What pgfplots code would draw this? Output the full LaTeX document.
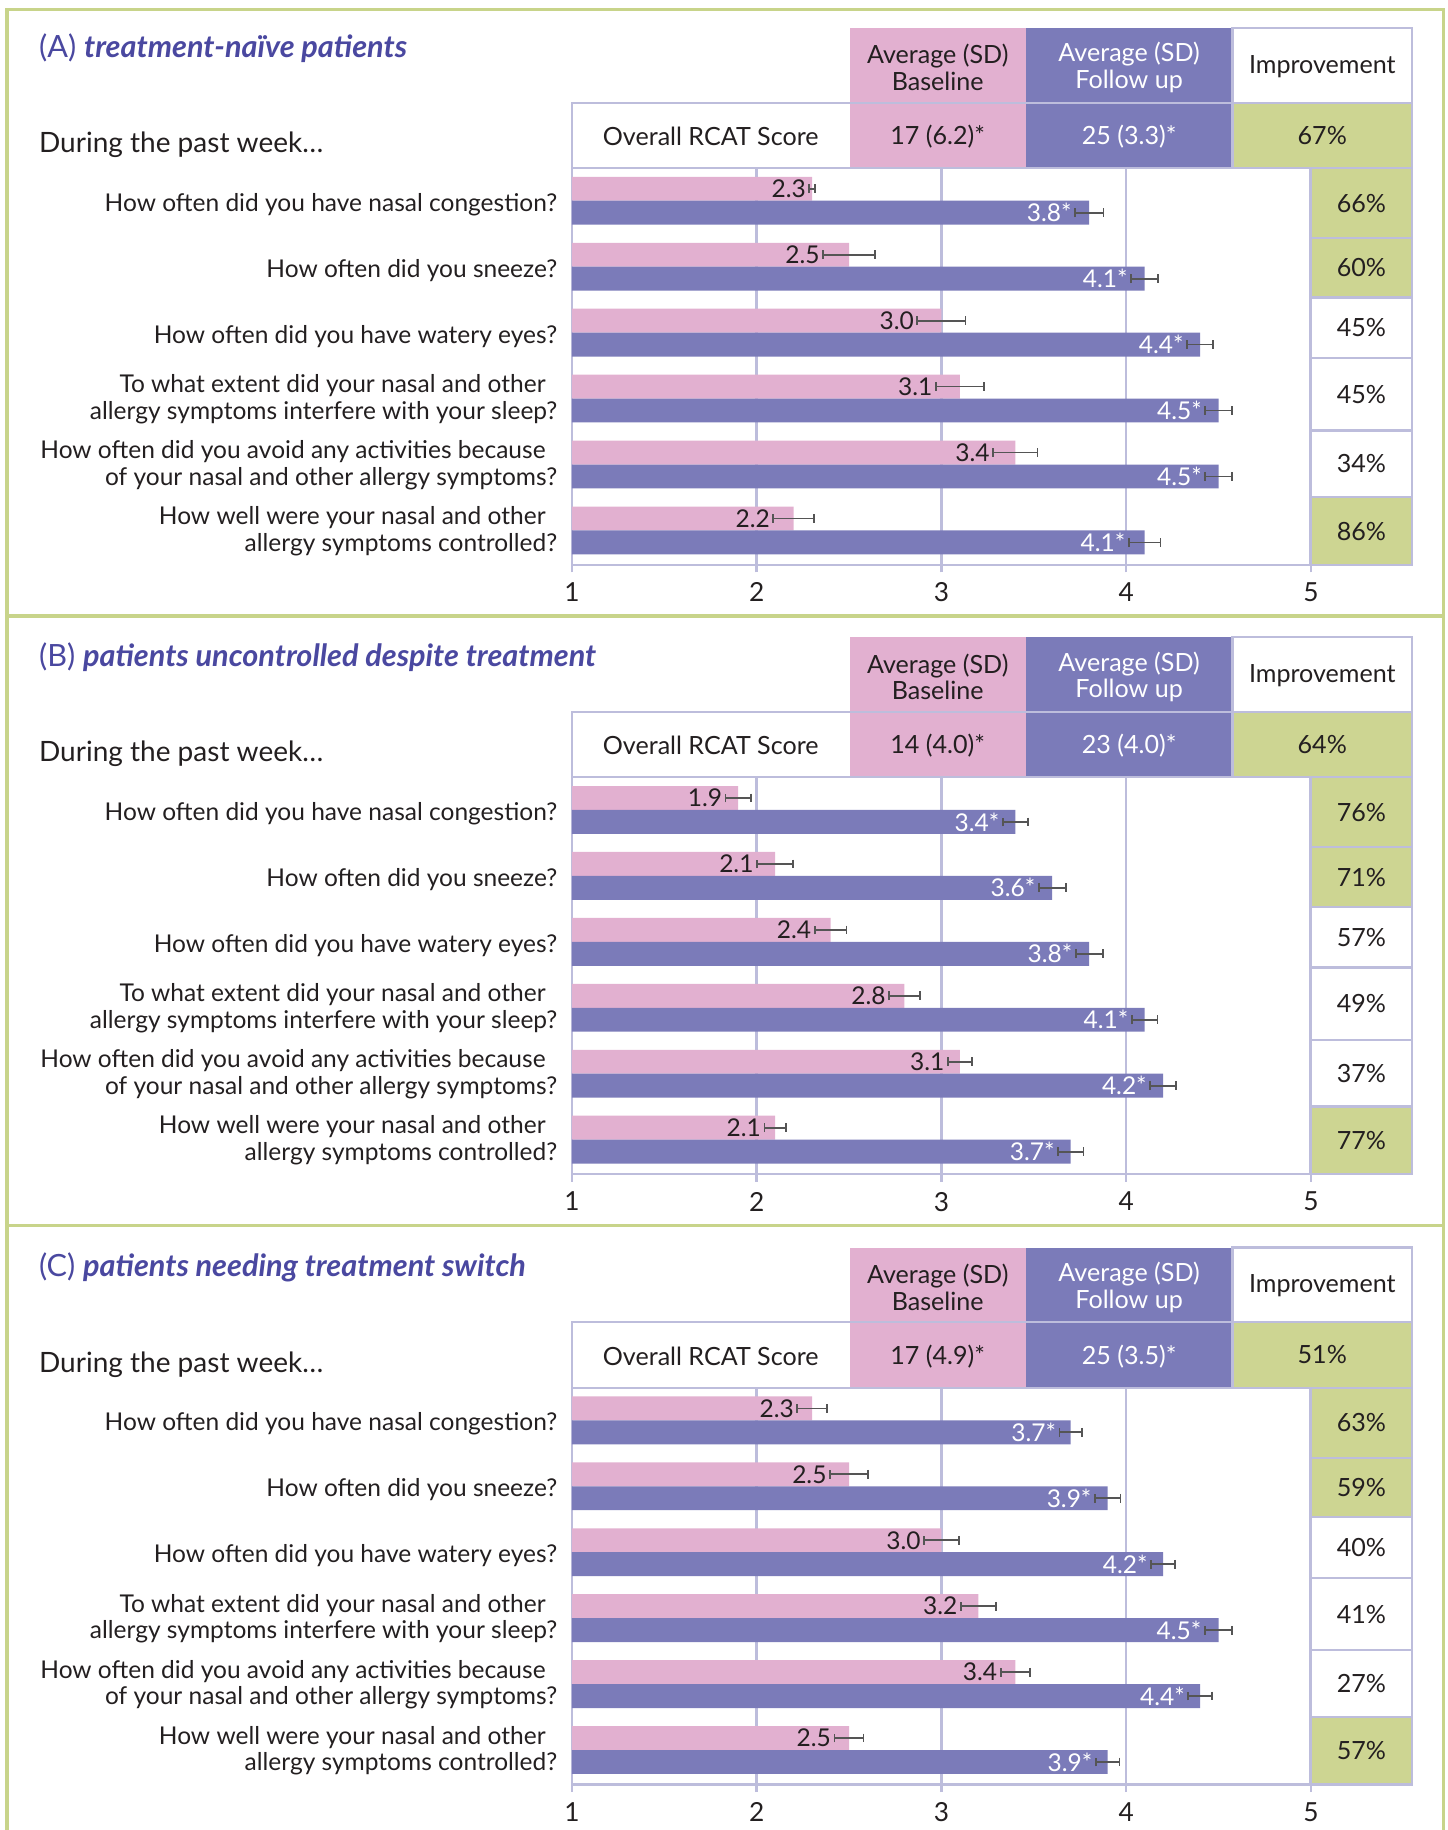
\documentclass[border=0pt]{standalone}
\usepackage{pgfplots}
\pgfplotsset{compat=1.18}
\usepackage{pgfplotstable}
\usepackage{fontspec}
\setmainfont{Lato}

\definecolor{pinkbar}{HTML}{E2B0D0}
\definecolor{purpbar}{HTML}{7B7BB9}
\definecolor{greencell}{HTML}{CDD592}
\definecolor{framecol}{HTML}{C8D48A}
\definecolor{lav}{HTML}{BDBDDC}
\definecolor{titlecol}{HTML}{4A48A0}
\definecolor{txt}{HTML}{231F20}
\definecolor{errcol}{HTML}{555555}

% pos = centre of the bar pair, measured down from the top of the plot area
\pgfplotstableread{
pos   base berr  fol ferr
28    2.3  0.015 3.8 0.077
84.5  2.5  0.14  4.1 0.074
141   3.0  0.13  4.4 0.070
197.5 3.1  0.13  4.5 0.072
254   3.4  0.12  4.5 0.072
310.5 2.2  0.11  4.1 0.086
}\dataA
\pgfplotstableread{
pos   base berr  fol ferr
28    1.9  0.068 3.4 0.068
84.5  2.1  0.098 3.6 0.073
141   2.4  0.086 3.8 0.073
197.5 2.8  0.083 4.1 0.070
254   3.1  0.065 4.2 0.070
310.5 2.1  0.058 3.7 0.069
}\dataB
\pgfplotstableread{
pos   base berr  fol ferr
28    2.3  0.080 3.7 0.060
84.5  2.5  0.103 3.9 0.069
141   3.0  0.094 4.2 0.065
197.5 3.2  0.095 4.5 0.074
254   3.4  0.079 4.4 0.064
310.5 2.5  0.079 3.9 0.064
}\dataC

\pgfplotsset{/pgf/number format/assume math mode=true}

\tikzset{
  qst/.style={anchor=east, align=right, inner sep=0pt, text=txt,
    font=\fontsize{8.4}{9.2}\selectfont},
  hdr/.style={align=center, inner sep=0pt, font=\fontsize{8.6}{9.2}\selectfont},
  cell/.style={draw=lav, line width=0.8pt},
}
\newcommand{\gap}{\hbox to 4pt{}}

% #1 top of plot area (px), #2 title, #3 table, #4 #5 #6 overall score cells, #7 improvement list
\newcommand{\panel}[7]{%
\begin{axis}[
  at={(196pt,{-0.4pt*#1})}, anchor=north west,
  scale only axis, width=288pt, height=136pt,
  xmin=1, xmax=5.5484, ymin=0, ymax=340,
  axis x line*=bottom, axis y line*=left,
  axis line style={draw=lav, line width=0.8pt},
  xtick={1,2,3,4,5}, ytick=\empty,
  xmajorgrids, major grid style={draw=lav, line width=0.8pt},
  tick align=outside, major tick length=2.6pt,
  x tick style={draw=lav, line width=0.8pt},
  tick label style={font=\fontsize{9}{10}\selectfont, text=txt},
  xbar, bar width=20.5, bar shift=0pt,
  point meta=x,
]
\addplot[fill=pinkbar, draw=none,
  nodes near coords={\pgfmathprintnumber[fixed,fixed zerofill,precision=1]{\pgfplotspointmeta}},
  visualization depends on={\thisrow{berr} \as \eb},
  every node near coord/.append style={anchor=east, xshift={-(\eb*63.32+1)*1pt},
    text=txt, inner sep=0pt, font=\fontsize{8.4}{9}\selectfont},
  error bars/.cd, x dir=both, x explicit,
  error bar style={errcol, line width=0.6pt},
  error mark options={rotate=90, errcol, line width=0.6pt, mark size=1.5pt}]
  table[x=base, y expr=350.25-\thisrow{pos}, x error=berr] {#3};
\addplot[fill=purpbar, draw=none,
  nodes near coords={\pgfmathprintnumber[fixed,fixed zerofill,precision=1]{\pgfplotspointmeta}*},
  visualization depends on={\thisrow{ferr} \as \eb},
  every node near coord/.append style={anchor=east, xshift={-(\eb*63.32+1)*1pt},
    text=white, inner sep=0pt, font=\fontsize{8.4}{9}\selectfont},
  error bars/.cd, x dir=both, x explicit,
  error bar style={errcol, line width=0.6pt},
  error mark options={rotate=90, errcol, line width=0.6pt, mark size=1.5pt}]
  table[x=fol, y expr=329.75-\thisrow{pos}, x error=ferr] {#3};
\end{axis}
\begin{scope}[x=0.4pt, y=-0.4pt]
  % header row
  \fill[pinkbar] (728,#1-120) rectangle (879,#1-56);
  \fill[purpbar] (879,#1-120) rectangle (1056,#1-56);
  \draw[cell, fill=white] (1056,#1-120) rectangle (1210,#1-56);
  \node[hdr, text=txt] at (803.5,#1-86) {Average (SD)\\Baseline};
  \node[hdr, text=white] at (967.5,#1-86) {Average (SD)\\Follow up};
  \node[hdr, text=txt] at (1133,#1-87) {Improvement};
  % overall score row
  \fill[white] (490,#1-56) rectangle (728,#1);
  \fill[pinkbar] (728,#1-56) rectangle (879,#1);
  \fill[purpbar] (879,#1-56) rectangle (1056,#1);
  \fill[greencell] (1056,#1-56) rectangle (1210,#1);
  \draw[cell] (490,#1-56) rectangle (1210,#1);
  \draw[cell] (1056,#1-56) -- (1056,#1);
  \node[hdr, text=txt] at (609,#1-27) {Overall RCAT Score};
  \node[hdr, text=txt] at (803.5,#1-27) {#4};
  \node[hdr, text=white] at (967.5,#1-27) {#5};
  \node[hdr, text=txt] at (1133,#1-28) {#6};
  % improvement column
  \foreach \v/\c [count=\i] in {#7} {
    \pgfmathsetmacro\ya{{0,60,111,163,225,282}[\i-1]}
    \pgfmathsetmacro\yb{{60,111,163,225,282,340}[\i-1]}
    \draw[cell, fill=\c] (1123,#1+\ya) rectangle (1210,#1+\yb);
    \node[hdr, text=txt] at (1166.5,{#1+(\ya+\yb)/2}) {\v};
  }
  % titles and questions
  \node[anchor=west, inner sep=0pt, text=titlecol, font=\fontsize{10.5}{11}\selectfont]
    at (33,#1-103) {#2};
  \node[anchor=west, inner sep=0pt, text=txt, font=\fontsize{9.6}{10}\selectfont]
    at (33,#1-20) {During the past week…};
  \node[qst] at (478,#1+31) {How often did you have nasal congestion?};
  \node[qst] at (478,#1+87.5) {How often did you sneeze?};
  \node[qst] at (478,#1+144) {How often did you have watery eyes?};
  \node[qst] at (478,#1+198) {To what extent did your nasal and other\gap\\allergy symptoms interfere with your sleep?};
  \node[qst] at (478,#1+254.5) {How often did you avoid any activities because\gap\\of your nasal and other allergy symptoms?};
  \node[qst] at (478,#1+311) {How well were your nasal and other\gap\\allergy symptoms controlled?};
\end{scope}
}

\begin{document}
\begin{tikzpicture}
\panel{144}{(A) \textbf{\textit{treatment-naïve patients}}}{\dataA}{17 (6.2)*}{25 (3.3)*}{67\%}
  {66\%/greencell,60\%/greencell,45\%/white,45\%/white,34\%/white,86\%/greencell}
\panel{666}{(B) \textbf{\textit{patients uncontrolled despite treatment}}}{\dataB}{14 (4.0)*}{23 (4.0)*}{64\%}
  {76\%/greencell,71\%/greencell,57\%/white,49\%/white,37\%/white,77\%/greencell}
\panel{1189}{(C) \textbf{\textit{patients needing treatment switch}}}{\dataC}{17 (4.9)*}{25 (3.5)*}{51\%}
  {63\%/greencell,59\%/greencell,40\%/white,41\%/white,27\%/white,57\%/greencell}
\begin{scope}[x=0.4pt, y=-0.4pt]
  \draw[framecol, line width=1.2pt] (6,1570) -- (6,8) -- (1237,8) -- (1237,1570);
  \draw[framecol, line width=1.2pt] (6,528) -- (1237,528);
  \draw[framecol, line width=1.2pt] (6,1050) -- (1237,1050);
\end{scope}
\pgfresetboundingbox
\path (0,0) rectangle (496pt,-627.2pt);
\end{tikzpicture}
\end{document}
